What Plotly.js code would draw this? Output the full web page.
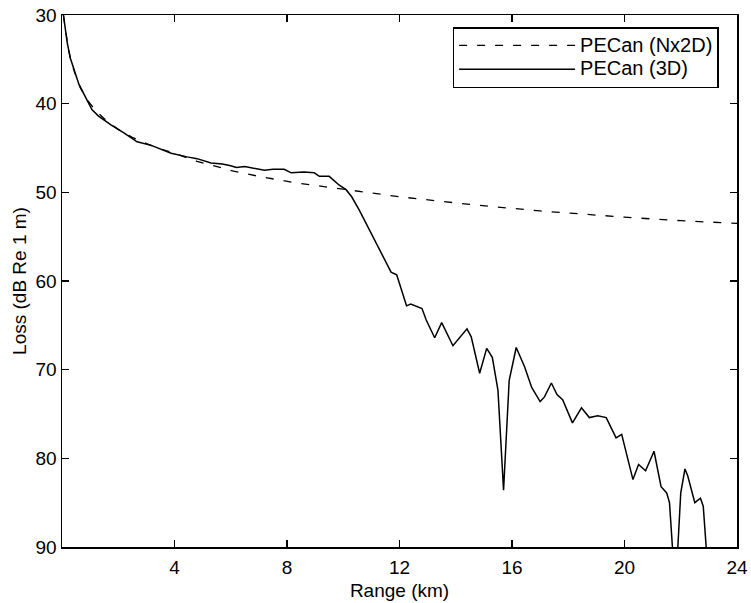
<!DOCTYPE html>
<html>
<head>
<meta charset="utf-8">
<script src="https://cdn.plot.ly/plotly-3.0.1.min.js"></script>
<style>html,body{margin:0;padding:0;background:#fff;}#chart{width:751px;height:603px;}</style>
</head>
<body>
<div id="chart"></div>
<script>
// Range (km) and loss (dB re 1 m) values
const rangeNx2D = [0.05,0.1,0.2,0.3,0.45,0.65,0.9,1.2,1.6,2.0,2.5,3.0,3.5,4.0,4.8,6.1,7.0,8.25,10.1,12,14.6,17,20,22,24];
const lossNx2D  = [30,31.2,33.3,35,36.5,38.2,39.6,40.8,42,42.9,43.8,44.5,45.1,45.6,46.5,47.6,48.2,48.9,49.7,50.5,51.4,52.1,52.8,53.2,53.5];

const range3D = [0.05,0.1,0.19,0.3,0.43,0.6,0.89,1.07,1.3,1.74,2.2,2.67,3.17,3.5,3.88,4.45,4.8,5.3,5.7,6.0,6.2,6.5,6.9,7.2,7.5,7.9,8.15,8.6,8.97,9.15,9.5,9.86,10.1,10.3,10.57,10.8,11.17,11.4,11.7,11.9,12.07,12.25,12.4,12.8,12.95,13.25,13.5,13.9,14.4,14.55,14.85,15.1,15.3,15.5,15.7,15.9,16.15,16.45,16.7,17.0,17.15,17.4,17.6,17.8,18.15,18.47,18.75,19.05,19.35,19.7,19.9,20.1,20.3,20.5,20.75,21.05,21.3,21.5,21.6,21.7,21.8,21.9,22.0,22.15,22.25,22.5,22.7,22.8,22.9,22.95];
const loss3D  = [30,31.3,33.2,34.9,36.2,37.8,39.6,40.7,41.4,42.4,43.3,44.3,44.7,45.1,45.6,46.0,46.2,46.7,46.8,47.0,47.2,47.1,47.3,47.5,47.4,47.4,47.8,47.7,47.8,48.2,48.2,49.2,49.7,50.5,52.0,53.4,55.6,57.1,59.0,59.3,61.0,62.8,62.6,63.1,64.4,66.4,64.7,67.3,65.4,66.3,70.4,67.6,68.6,72.3,83.6,71.2,67.5,69.7,72.0,73.6,73.1,71.5,72.8,73.4,76.0,74.3,75.4,75.2,75.4,77.7,77.3,79.8,82.4,80.7,81.4,79.2,83.2,83.9,85.0,89.8,95,89.8,83.9,81.2,82.0,85.0,84.5,85.4,89.8,95];

const xTicks = [4,8,12,16,20,24];
const yTicks = [30,40,50,60,70,80,90];
const seriesNames = ['PECan (Nx2D)','PECan (3D)'];

const FONT = '"Liberation Sans", Arial, Helvetica, sans-serif';

const traces = [
  {x: rangeNx2D, y: lossNx2D, mode: 'lines', name: '<span style="font-size:20px">' + seriesNames[0] + '</span>',
   line: {color: '#000', width: 1.3, dash: '8px,10px'}},
  {x: range3D, y: loss3D, mode: 'lines', name: '<span style="font-size:20px">' + seriesNames[1] + '</span>',
   line: {color: '#000', width: 1.5}}
];

const axisCommon = {
  showgrid: false, zeroline: false, showline: true, linecolor: '#000', linewidth: 1.5,
  mirror: 'ticks', ticks: 'inside', ticklen: 7, tickwidth: 1.2, tickcolor: '#000',
  tickfont: {family: FONT, size: 19, color: '#000'}
};

const layout = {
  width: 751, height: 603,
  margin: {l: 62, r: 14, t: 15, b: 56},
  paper_bgcolor: '#fff', plot_bgcolor: '#fff',
  font: {family: FONT, color: '#000', size: 19},
  showlegend: true,
  legend: {x: 0.973, xanchor: 'right', y: 0.977, yanchor: 'top',
           bgcolor: '#fff', bordercolor: '#000', borderwidth: 1.3,
           font: {family: FONT, size: 16, color: '#000'}, itemwidth: 116, tracegroupgap: 0},
  xaxis: Object.assign({}, axisCommon, {
    range: [0, 24], tickvals: xTicks, ticktext: xTicks.map(String), ticklabelstandoff: 3,
    title: {text: 'Range (km)', font: {family: FONT, size: 19, color: '#000'}, standoff: 6}
  }),
  yaxis: Object.assign({}, axisCommon, {
    range: [90, 30], tickvals: yTicks, ticktext: yTicks.map(String),
    title: {text: 'Loss (dB Re 1 m)', font: {family: FONT, size: 19, color: '#000'}, standoff: 4}
  })
};

Plotly.newPlot('chart', traces, layout, {staticPlot: true, displayModeBar: false});
</script>
</body>
</html>
